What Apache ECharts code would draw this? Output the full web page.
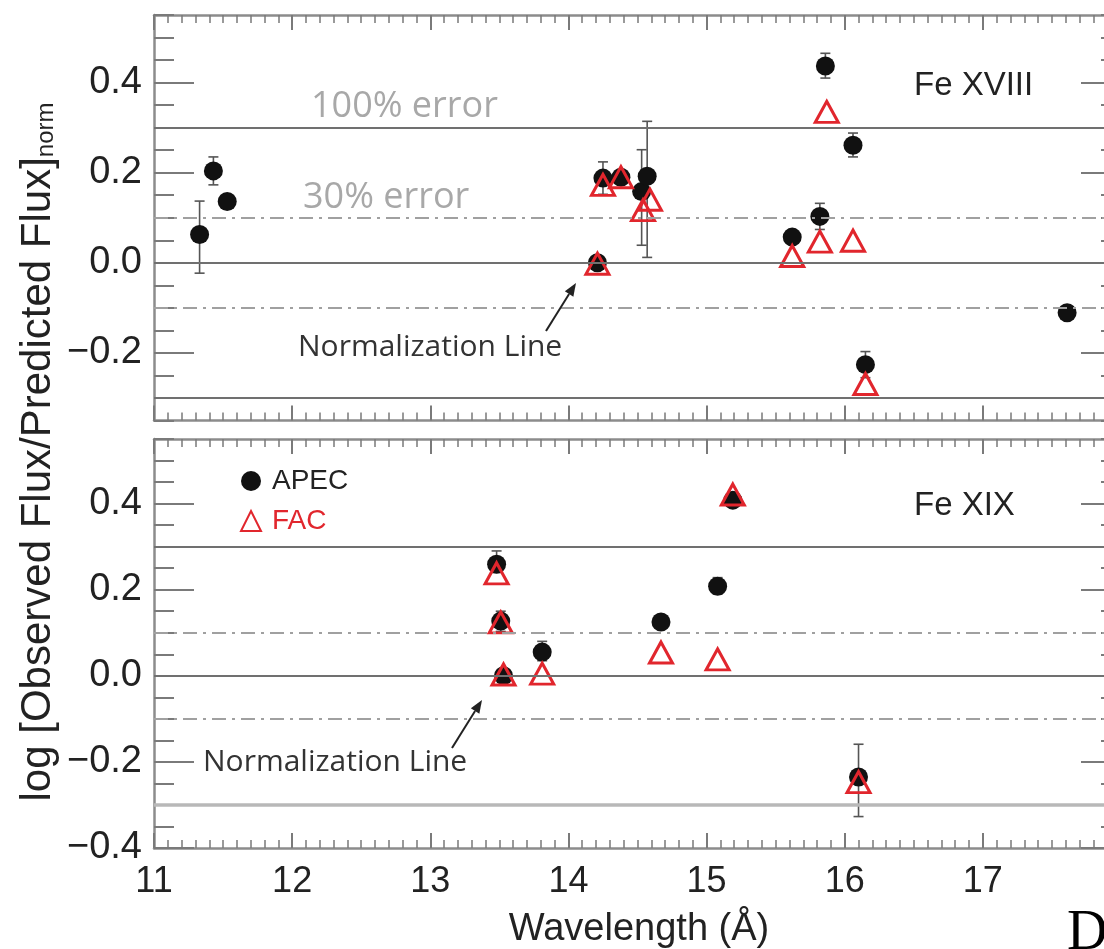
<!DOCTYPE html>
<html>
<head>
<meta charset="utf-8">
<title>Fe XVIII / Fe XIX flux ratios</title>
<script src="https://cdn.jsdelivr.net/npm/echarts@6/dist/echarts.min.js"></script>
<style>
  html, body { margin: 0; padding: 0; background: #fff; }
  #chart { width: 1104px; height: 949px; }
</style>
</head>
<body>
<div id="chart"></div>
<script>
// ---- Data: wavelength (Å) and log flux ratio, per ion and per atomic model ----
// Fe XVIII (upper panel)
const fe18ApecWave = [11.33, 11.43, 11.53, 14.21, 14.25, 14.38, 14.53, 14.57, 15.62, 15.82, 15.86, 16.06, 16.15, 17.61];
const fe18ApecVal  = [0.063, 0.204, 0.136, 0.000, 0.188, 0.190, 0.158, 0.192, 0.057, 0.103, 0.437, 0.261, -0.226, -0.111];
const fe18ErrLow   = [-0.023, 0.173, 0.125, -0.008, 0.152, 0.178, 0.039, 0.012, 0.045, 0.074, 0.410, 0.235, -0.255, -0.120];
const fe18ErrHigh  = [0.137, 0.235, 0.147, 0.008, 0.224, 0.204, 0.251, 0.314, 0.070, 0.132, 0.465, 0.288, -0.197, -0.102];
const fe18FacWave  = [14.21, 14.25, 14.38, 14.54, 14.59, 15.62, 15.82, 15.87, 16.06, 16.15];
const fe18FacVal   = [-0.002, 0.173, 0.190, 0.117, 0.140, 0.015, 0.047, 0.335, 0.049, -0.269];

// Fe XIX (lower panel)
const fe19ApecWave = [13.48, 13.51, 13.53, 13.81, 14.67, 15.08, 15.19, 16.10];
const fe19ApecVal  = [0.259, 0.127, 0.000, 0.055, 0.125, 0.208, 0.408, -0.235];
const fe19ErrLow   = [0.240, 0.103, -0.010, 0.035, 0.110, 0.190, 0.395, -0.327];
const fe19ErrHigh  = [0.290, 0.150, 0.010, 0.080, 0.140, 0.228, 0.425, -0.159];
const fe19FacWave  = [13.48, 13.51, 13.53, 13.81, 14.67, 15.08, 15.19, 16.10];
const fe19FacVal   = [0.238, 0.124, 0.003, 0.005, 0.054, 0.038, 0.421, -0.247];

// Reference levels: normalization, 30% and 100% error bands
const solidLevels = [0.3, 0.0, -0.3];
const dashLevels  = [0.1, -0.1];

// Axis ranges and tick values
const waveMin = 11, waveMax = 18;
const topRange = [-0.35, 0.55];
const botRange = [-0.4, 0.55];
const topMajorTicks = [-0.2, 0.0, 0.2, 0.4];
const botMajorTicks = [-0.4, -0.2, 0.0, 0.2, 0.4];

// ---- Helpers ----
const zip = (a, b) => a.map((v, i) => [v, b[i]]);
const errData = (w, lo, hi) => w.map((v, i) => [v, lo[i], hi[i]]);

const FRAME = '#8c8c8c';
const TICK = '#7a7a7a';
const RED = '#e1262d';
const SANS = "'Liberation Sans', Arial, sans-serif";
const HUMANIST = "'Open Sans', 'Noto Sans', sans-serif";

function fmtY(v) {
  const s = Math.abs(v).toFixed(1);
  return v < -1e-9 ? '\u2212' + s : s;
}

// The plotting frame runs past the right edge of the canvas (18 Å lies just outside)
const grids = [
  { left: 154, top: 15, width: 967, height: 405.5, outerBoundsMode: 'none', containLabel: false },
  { left: 154, top: 439, width: 967, height: 409, outerBoundsMode: 'none', containLabel: false }
];

// x axes: bottom + top for each panel (ticks inward, minor every 0.1 Å)
function xAxisFor(grid, pos, showLabels) {
  return {
    type: 'value', gridIndex: grid, position: pos,
    min: waveMin, max: waveMax, interval: 1,
    axisLine: { show: true, onZero: false, lineStyle: { color: FRAME, width: 2.5 } },
    axisTick: { show: true, inside: true, length: 15, lineStyle: { color: TICK, width: 2 } },
    minorTick: { show: true, splitNumber: 10, length: 8, lineStyle: { color: TICK, width: 1.5 } },
    splitLine: { show: false },
    axisLabel: {
      show: showLabels, margin: 16, color: '#222', fontSize: 36, fontFamily: SANS,
      formatter: v => (v >= waveMax ? '' : String(v))
    }
  };
}

// y axes: a major axis (labels + long ticks) and a minor axis (0.05 ticks), on both sides
function yMajor(grid, pos, range, majors, showLabels) {
  return {
    type: 'value', gridIndex: grid, position: pos,
    min: range[0], max: range[1],
    axisLine: { show: true, onZero: false, lineStyle: { color: FRAME, width: 2.5 } },
    axisTick: { show: true, inside: true, length: 40, customValues: majors, lineStyle: { color: TICK, width: 2 } },
    splitLine: { show: false },
    axisLabel: {
      show: showLabels, customValues: majors, margin: 12, color: '#222',
      fontSize: 38, fontFamily: SANS, formatter: fmtY
    }
  };
}
function yMinor(grid, pos, range) {
  return {
    type: 'value', gridIndex: grid, position: pos,
    min: range[0], max: range[1], interval: 0.05,
    axisLine: { show: false },
    axisTick: { show: true, inside: true, length: 20, lineStyle: { color: TICK, width: 2 } },
    splitLine: { show: false },
    axisLabel: { show: false }
  };
}

function refLines(isBottom) {
  const data = [];
  solidLevels.forEach(v => {
    const faint = isBottom && v < -0.2;
    data.push({
      yAxis: v,
      lineStyle: faint
        ? { color: '#b8b8b8', width: 3.5, type: 'solid' }
        : { color: '#707070', width: 2, type: 'solid' }
    });
  });
  dashLevels.forEach(v => {
    data.push({ yAxis: v, lineStyle: { color: '#a0a0a0', width: 2, type: [14, 6, 3, 6] } });
  });
  return {
    silent: true, symbol: ['none', 'none'], label: { show: false },
    animation: false, data: data
  };
}

function errorSeries(grid, data, isBottom) {
  return {
    type: 'custom', xAxisIndex: grid * 2, yAxisIndex: grid * 4,
    data: data, z: 1, silent: true, animation: false,
    markLine: refLines(isBottom),
    renderItem: function (params, api) {
      const x = api.value(0);
      const lo = api.coord([x, api.value(1)]);
      const hi = api.coord([x, api.value(2)]);
      const cw = 5;
      const st = { stroke: '#555', lineWidth: 1.6 };
      return {
        type: 'group',
        children: [
          { type: 'line', shape: { x1: lo[0], y1: lo[1], x2: hi[0], y2: hi[1] }, style: st },
          { type: 'line', shape: { x1: lo[0] - cw, y1: lo[1], x2: lo[0] + cw, y2: lo[1] }, style: st },
          { type: 'line', shape: { x1: hi[0] - cw, y1: hi[1], x2: hi[0] + cw, y2: hi[1] }, style: st }
        ]
      };
    }
  };
}

function apecSeries(grid, data) {
  return {
    name: 'APEC', type: 'scatter', xAxisIndex: grid * 2, yAxisIndex: grid * 4,
    data: data, symbol: 'circle', symbolSize: 19, z: 3,
    itemStyle: { color: '#111', opacity: 1 }, animation: false
  };
}
function facSeries(grid, data) {
  return {
    name: 'FAC', type: 'scatter', xAxisIndex: grid * 2, yAxisIndex: grid * 4,
    data: data, symbol: 'triangle', symbolSize: [23, 21], z: 4,
    itemStyle: { color: 'rgba(0,0,0,0)', borderColor: RED, borderWidth: 3, opacity: 1 },
    animation: false
  };
}

// Annotation arrow from tail to head
function arrow(x1, y1, x2, y2) {
  const ang = Math.atan2(y2 - y1, x2 - x1);
  const L = 13, W = 5;
  const bx = x2 - L * Math.cos(ang), by = y2 - L * Math.sin(ang);
  const nx = -Math.sin(ang) * W, ny = Math.cos(ang) * W;
  return [
    { type: 'line', shape: { x1: x1, y1: y1, x2: bx, y2: by }, style: { stroke: '#222', lineWidth: 2 }, z: 10 },
    { type: 'polygon', shape: { points: [[x2, y2], [bx + nx, by + ny], [bx - nx, by - ny]] }, style: { fill: '#222' }, z: 10 }
  ];
}

function label(text, x, y, opts) {
  return {
    type: 'text', x: x, y: y, z: 10,
    style: Object.assign({ text: text, fill: '#333', font: '30px ' + HUMANIST, textAlign: 'left', textVerticalAlign: 'middle' }, opts || {})
  };
}

const option = {
  backgroundColor: '#fff',
  animation: false,
  grid: grids,
  xAxis: [
    xAxisFor(0, 'bottom', false), xAxisFor(0, 'top', false),
    xAxisFor(1, 'bottom', true), xAxisFor(1, 'top', false)
  ],
  yAxis: [
    yMajor(0, 'left', topRange, topMajorTicks, true), yMinor(0, 'left', topRange),
    yMajor(0, 'right', topRange, topMajorTicks, false), yMinor(0, 'right', topRange),
    yMajor(1, 'left', botRange, botMajorTicks, true), yMinor(1, 'left', botRange),
    yMajor(1, 'right', botRange, botMajorTicks, false), yMinor(1, 'right', botRange)
  ],
  legend: {
    orient: 'vertical', left: 240, top: 467, itemGap: 12,
    itemWidth: 20, itemHeight: 20, padding: 0,
    data: [
      { name: 'APEC', textStyle: { color: '#222' } },
      { name: 'FAC', textStyle: { color: RED } }
    ],
    textStyle: { fontSize: 28, fontFamily: SANS, padding: [0, 0, 0, 6] },
    selectedMode: false
  },
  series: [
    errorSeries(0, errData(fe18ApecWave, fe18ErrLow, fe18ErrHigh), false),
    apecSeries(0, zip(fe18ApecWave, fe18ApecVal)),
    facSeries(0, zip(fe18FacWave, fe18FacVal)),
    errorSeries(1, errData(fe19ApecWave, fe19ErrLow, fe19ErrHigh), true),
    apecSeries(1, zip(fe19ApecWave, fe19ApecVal)),
    facSeries(1, zip(fe19FacWave, fe19FacVal))
  ],
  graphic: [
    label('100% error', 311, 107, { fill: '#a8a8a8', font: '36px ' + HUMANIST }),
    label('30% error', 303, 198, { fill: '#a8a8a8', font: '36px ' + HUMANIST }),
    label('Normalization Line', 298, 347),
    label('Normalization Line', 203, 762),
    label('Fe XVIII', 914, 86, { font: '33px ' + SANS, fill: '#222' }),
    label('Fe XIX', 914, 506, { font: '33px ' + SANS, fill: '#222' }),
    ...arrow(546, 331, 576, 283),
    ...arrow(452, 748, 482, 700),
    {
      type: 'text', x: 639, y: 930, z: 10,
      style: { text: 'Wavelength (\u00C5)', fill: '#222', font: '38px ' + SANS, textAlign: 'center', textVerticalAlign: 'middle' }
    },
    {
      type: 'text', x: 38, y: 452, rotation: Math.PI / 2, z: 10,
      style: {
        text: '{a|log [Observed Flux/Predicted Flux]}{s|norm}',
        textAlign: 'center', textVerticalAlign: 'middle', fill: '#222',
        rich: {
          a: { fontSize: 42, fontFamily: SANS, fill: '#222', lineHeight: 48 },
          s: { fontSize: 24, fontFamily: SANS, fill: '#222', lineHeight: 48, padding: [16, 0, 0, 0] }
        }
      }
    },
    {
      type: 'text', x: 1067, y: 934, z: 10,
      style: { text: 'D', fill: '#000', font: '56px "Liberation Serif", serif', textAlign: 'left', textVerticalAlign: 'middle' }
    }
  ]
};

const chart = echarts.init(document.getElementById('chart'), null, { renderer: 'canvas' });
chart.setOption(option);
</script>
</body>
</html>
